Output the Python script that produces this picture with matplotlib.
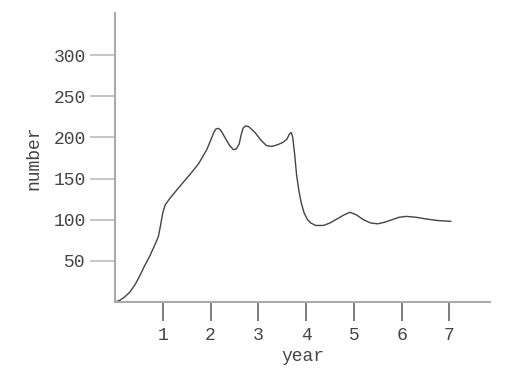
import matplotlib
matplotlib.use("Agg")
import matplotlib.pyplot as plt

# values
years = [0.0, 0.10, 0.20, 0.31, 0.42, 0.52, 0.62, 0.73, 0.80, 0.87, 0.91,
         0.95, 1.00, 1.05, 1.15, 1.35, 1.57, 1.75, 1.92, 2.00, 2.06, 2.11,
         2.16, 2.21, 2.30, 2.40, 2.48, 2.54, 2.60, 2.64, 2.68, 2.73, 2.80,
         2.93, 3.05, 3.17, 3.28, 3.40, 3.52, 3.60, 3.65, 3.69, 3.72, 3.76,
         3.80, 3.85, 3.90, 3.96, 4.03, 4.10, 4.20, 4.36, 4.50, 4.65, 4.80,
         4.92, 5.05, 5.20, 5.35, 5.50, 5.65, 5.80, 5.95, 6.10, 6.30, 6.50,
         6.75, 7.03]
number = [0, 2, 6, 12, 21, 32, 44, 56, 65, 74, 80,
          92, 108, 118, 126, 140, 155, 168, 185, 196, 205, 210,
          211, 209, 200, 190, 185, 186, 192, 203, 211, 214, 213,
          206, 197, 190, 189, 191, 194, 198, 204, 206, 200, 180,
          155, 135, 120, 108, 100, 96, 93, 93, 96, 101, 106,
          109, 106, 100, 96, 95, 97, 100, 103, 104, 103, 101,
          99, 98]

xticks = [1, 2, 3, 4, 5, 6, 7]
yticks = [50, 100, 150, 200, 250, 300]

plt.rcParams['font.family'] = ['Liberation Mono', 'DejaVu Sans Mono']

fig = plt.figure(figsize=(5.26, 3.74), dpi=100)
ax = fig.add_axes([0.2186, 0.1925, 0.713, 0.7725])

ax.plot(years, number, color='#444444', lw=1.0)

ax.set_xlim(0, 7.85)
ax.set_ylim(0, 351)

for side in ['top', 'right']:
    ax.spines[side].set_visible(False)
for side in ['left', 'bottom']:
    ax.spines[side].set_color('#aaaaaa')
    ax.spines[side].set_linewidth(1.5)

ax.set_xticks(xticks)
ax.set_yticks(yticks)
ax.tick_params(axis='x', direction='out', length=14, width=1.2, color='#666666',
               pad=4, labelsize=13, labelcolor='#444444')
ax.tick_params(axis='y', direction='out', length=18, width=1.2, color='#bbbbbb',
               pad=3, labelsize=13, labelcolor='#444444')
# top two y ticks are darker in the reference
for t in ax.yaxis.get_major_ticks()[-2:]:
    t.tick1line.set_color('#333333')

ax.set_xlabel('year', fontsize=13, color='#444444', labelpad=3)
ax.set_ylabel('number', fontsize=13, color='#444444', labelpad=8)

fig.savefig('out.png', dpi=100)
